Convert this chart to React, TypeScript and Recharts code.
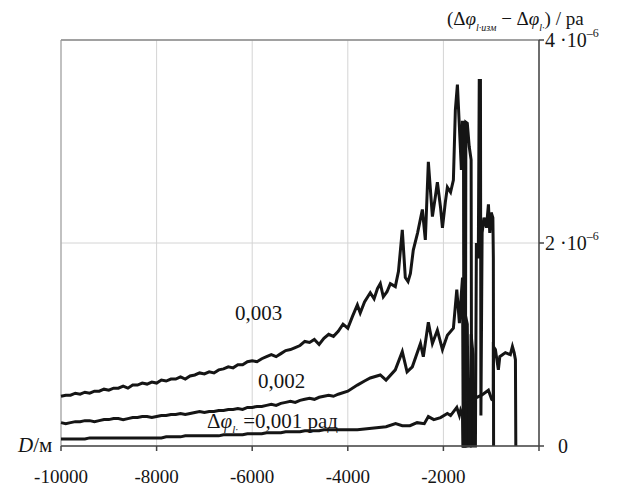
import React from "react";
import {
  CartesianGrid,
  Line,
  LineChart,
  ReferenceLine,
  XAxis,
  YAxis,
} from "recharts";

// distance D, м (smooth part of the traces)
const D_LOW = [
  -10000, -9900, -9800, -9700, -9600, -9500, -9400, -9300, -9200, -9100,
  -9000, -8900, -8800, -8700, -8600, -8500, -8400, -8300, -8200, -8100,
  -8000, -7900, -7800, -7700, -7600, -7500, -7400, -7300, -7200, -7100,
  -7000, -6900, -6800, -6700, -6600, -6500, -6400, -6300, -6200, -6100,
  -6000, -5900, -5800, -5700, -5600, -5500, -5400, -5300, -5200, -5100,
  -5000, -4900, -4800, -4700, -4600, -4500, -4400, -4300, -4200,
];

// values in units of 10^-6
const V003_LOW = [
  0.49, 0.5, 0.5, 0.52, 0.51, 0.53, 0.52, 0.54, 0.54, 0.56,
  0.55, 0.57, 0.57, 0.59, 0.57, 0.6, 0.6, 0.62, 0.61, 0.63,
  0.62, 0.65, 0.64, 0.66, 0.66, 0.68, 0.66, 0.69, 0.7, 0.72,
  0.71, 0.73, 0.72, 0.75, 0.76, 0.78, 0.77, 0.8, 0.8, 0.83,
  0.84, 0.83, 0.86, 0.88, 0.9, 0.88, 0.91, 0.94, 0.95, 0.97,
  0.99, 1.03, 1.02, 1.05, 1.0, 1.06, 1.1, 1.08, 1.13,
];
const V002_LOW = [
  0.23, 0.22, 0.23, 0.24, 0.24, 0.25, 0.25, 0.24, 0.25, 0.26,
  0.26, 0.27, 0.27, 0.26, 0.27, 0.28, 0.28, 0.29, 0.29, 0.28,
  0.29, 0.3, 0.3, 0.31, 0.31, 0.32, 0.31, 0.32, 0.33, 0.34,
  0.33, 0.34, 0.34, 0.35, 0.35, 0.36, 0.36, 0.37, 0.36, 0.38,
  0.38, 0.39, 0.39, 0.4, 0.41, 0.4, 0.42, 0.43, 0.44, 0.43,
  0.45, 0.46, 0.47, 0.46, 0.48, 0.49, 0.5, 0.49, 0.51,
];
const V001_LOW = [
  0.07, 0.07, 0.07, 0.07, 0.07, 0.07, 0.08, 0.08, 0.08, 0.08,
  0.08, 0.08, 0.08, 0.08, 0.08, 0.08, 0.08, 0.08, 0.08, 0.08,
  0.08, 0.08, 0.09, 0.09, 0.09, 0.09, 0.1, 0.1, 0.1, 0.1,
  0.1, 0.1, 0.1, 0.1, 0.11, 0.11, 0.11, 0.11, 0.11, 0.12,
  0.12, 0.12, 0.12, 0.13, 0.13, 0.13, 0.13, 0.14, 0.14, 0.14,
  0.14, 0.15, 0.15, 0.15, 0.15, 0.16, 0.16, 0.16, 0.16,
];

const D003_HIGH = [
  -4100, -4000, -3900, -3800, -3740, -3650, -3530, -3450, -3380, -3320,
  -3257, -3180, -3110, -3006, -2940, -2860, -2797, -2740, -2690, -2630,
  -2540, -2440, -2378, -2315, -2230, -2170, -2126, -2060, -2020, -1960,
  -1917, -1850, -1791, -1750, -1707, -1665, -1624, -1603, -1580, -1570,
  -1540, -1530, -1500, -1460, -1420, -1410, -1330, -1310, -1270, -1250,
  -1225, -1215, -1190, -1150, -1100, -1058, -1030, -1000, -965, -955, -950,
];
const V003_HIGH = [
  1.2, 1.16, 1.28, 1.39, 1.31, 1.42, 1.51, 1.45, 1.55, 1.6,
  1.47, 1.52, 1.6, 1.57, 1.72, 2.13, 1.66, 1.62, 1.7, 1.93,
  2.1, 2.33, 2.03, 2.8, 2.26, 2.45, 2.6, 2.35, 2.15, 2.4,
  2.55, 2.5, 2.62, 3.31, 3.56, 3.14, 2.72, 3.19, 3.19, 0,
  0, 3.19, 3.18, 2.95, 2.82, 0, 0, 2.0, 1.85, 3.6,
  3.6, 0.3, 2.1, 2.25, 2.15, 2.38, 2.1, 2.3, 2.25, 1.85, 0,
];

// null = gap in the trace
const D002_HIGH = [
  -4000, -3800, -3650, -3530, -3320, -3200, -3006, -2860, -2760, -2650,
  -2480, -2420, -2315, -2230, -2126, -2020, -1917, -1791, -1720, -1665,
  -1640, -1600, -1585, -1560, -1545, -1500, -1480, -1440, -1420, -1380,
  -1350, -1000, -958, -955, -912, -850, -820, -703, -600, -556,
  -520, -493, -485,
];
const V002_HIGH = [
  0.54, 0.6, 0.64, 0.67, 0.7, 0.65, 0.75, 0.93, 0.73, 0.78,
  1.01, 0.88, 1.22, 1.01, 1.14, 0.95, 1.09, 1.16, 1.54, 1.21,
  1.4, 1.66, 0, 0, 1.3, 1.2, 0, 0, 1.1, 0.9,
  0, null, 0.45, 0.98, 0.95, 0.75, 0.88, 0.92, 0.9, 0.98,
  0.92, 0.85, 0,
];

const D001_HIGH = [
  -4000, -3800, -3600, -3400, -3200, -3000, -2860, -2700, -2550, -2400,
  -2315, -2200, -2060, -1917, -1850, -1720, -1665, -1640, -1600, -1590,
  -1530, -1520, -1400, -1300, -1200, -1058, -990, -962,
];
const V001_HIGH = [
  0.16, 0.16, 0.17, 0.18, 0.19, 0.22, 0.2, 0.2, 0.23, 0.22,
  0.29, 0.26, 0.28, 0.32, 0.3, 0.38, 0.3, 0.35, 0.3, 0,
  0, 0.42, 0.44, 0.48, 0.5, 0.55, 0.46, 0.45,
];

const X_TICKS = [-10000, -8000, -6000, -4000, -2000, 0];
const Y_TICKS = [0, 2, 4];

const toPoints = (xs: number[], ys: (number | null)[]) => xs.map((x, i) => ({ x, y: ys[i] }));

const s003 = toPoints([...D_LOW, ...D003_HIGH], [...V003_LOW, ...V003_HIGH]);
const s002 = toPoints([...D_LOW, ...D002_HIGH], [...V002_LOW, ...V002_HIGH]);
const s001 = toPoints([...D_LOW, ...D001_HIGH], [...V001_LOW, ...V001_HIGH]);

const FONT = "Times New Roman, Liberation Serif, Tinos, DejaVu Serif, serif";
const INK = "#151515";

const YTick = (props: any) => {
  const { x, y, payload } = props;
  if (payload.value === 0) {
    return (
      <text x={x + 14} y={y + 7} style={{ fontFamily: FONT }} fontSize={20} fill={INK}>
        0
      </text>
    );
  }
  return (
    <text x={x + 1} y={y + 7} style={{ fontFamily: FONT }} fontSize={20} fill={INK}>
      {payload.value} ·10
      <tspan dy={-10} fontSize={12}>
        –6
      </tspan>
    </text>
  );
};

export default function App() {
  return (
    <div style={{ position: "absolute", left: 0, top: 0, width: 622, height: 489, background: "#fff", fontFamily: FONT }}>
      <LineChart
        width={622}
        height={489}
        margin={{ top: 40, right: 13, left: 61, bottom: 3 }}
      >
        <CartesianGrid stroke="#d4d4d4" strokeWidth={1} />
        <XAxis
          dataKey="x"
          type="number"
          domain={[-10000, 0]}
          ticks={X_TICKS}
          allowDuplicatedCategory={false}
          height={40}
          tickSize={5}
          tickMargin={19}
          tickFormatter={(v: number) => (v === 0 ? "" : String(v))}
          tick={{ fill: INK, fontSize: 19, style: { fontFamily: FONT } }}
          axisLine={{ stroke: "#444", strokeWidth: 1.5 }}
          tickLine={{ stroke: "#444", strokeWidth: 1.5 }}
        />
        <YAxis
          orientation="right"
          type="number"
          domain={[0, 4]}
          ticks={Y_TICKS}
          width={70}
          tickSize={5}
          tickMargin={0}
          tick={<YTick />}
          axisLine={{ stroke: "#444", strokeWidth: 1.5 }}
          tickLine={{ stroke: "#444", strokeWidth: 1.5 }}
        />
        <ReferenceLine y={4} stroke="#888" strokeWidth={1.5} />
        <ReferenceLine x={-10000} stroke="#999" strokeWidth={1} />
        <Line data={s003} dataKey="y" type="linear" stroke={INK} strokeWidth={3} dot={false} isAnimationActive={false} />
        <Line data={s002} dataKey="y" type="linear" stroke={INK} strokeWidth={3} dot={false} isAnimationActive={false} />
        <Line data={s001} dataKey="y" type="linear" stroke={INK} strokeWidth={3} dot={false} isAnimationActive={false} />
      </LineChart>
      <svg
        width={622}
        height={489}
        style={{ position: "absolute", left: 0, top: 0, pointerEvents: "none", fontFamily: FONT }}
        fill={INK}
      >
        <text x={447} y={25} fontSize={19}>
          (Δ<tspan fontStyle="italic">φ</tspan>
          <tspan dy={6} fontSize={10} fontStyle="italic">l·изм</tspan>
          <tspan dy={-6}> − Δ</tspan>
          <tspan fontStyle="italic">φ</tspan>
          <tspan dy={6} fontSize={10} fontStyle="italic">l·</tspan>
          <tspan dy={-6}>) / ра</tspan>
        </text>
        <text x={235} y={320} fontSize={21}>0,003</text>
        <text x={258} y={388} fontSize={21}>0,002</text>
        <text x={207} y={428} fontSize={21}>
          Δ<tspan fontStyle="italic">φ</tspan>
          <tspan dy={5} fontSize={11} fontStyle="italic">l·</tspan>
          <tspan dy={-5}> =0,001 рад</tspan>
        </text>
        <text x={18} y={452} fontSize={21}>
          <tspan fontStyle="italic">D</tspan>/м
        </text>
      </svg>
    </div>
  );
}
